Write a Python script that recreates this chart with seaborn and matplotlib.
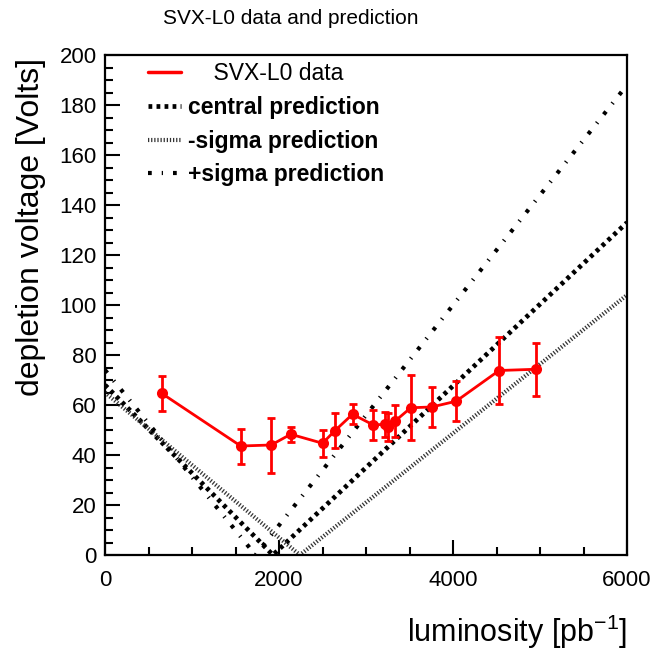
import numpy as np
import pandas as pd
import matplotlib
matplotlib.use("Agg")
import matplotlib.pyplot as plt
from matplotlib.ticker import MultipleLocator
from matplotlib.lines import Line2D
import seaborn as sns

# measured depletion voltage
lumi = [650, 1560, 1910, 2135, 2500, 2645, 2845, 3085, 3220, 3255, 3335,
        3515, 3755, 4035, 4530, 4955]
volt = [64.7, 43.6, 44.0, 48.3, 44.7, 49.8, 56.3, 52.0, 52.3, 51.2, 53.6,
        58.9, 59.2, 61.5, 73.8, 74.3]
volt_err = [7, 7, 11, 3, 5.5, 7, 4, 6, 5, 5.5, 6.5, 13, 8, 8, 13.5, 10.5]

# predictions (start, inversion point, end of range)
pred_lumi = [0, 1930, 6000]
central = [68, 0, 133]
minus_lumi = [0, 2240, 6000]
minus_sigma = [65, 0, 104]
plus_lumi = [0, 1730, 6000]
plus_sigma = [74, 0, 188]

sns.set_theme(style="white")
plt.rcParams['font.family'] = ['Liberation Sans', 'DejaVu Sans']
plt.rcParams['text.color'] = 'black'
plt.rcParams['xtick.color'] = 'black'
plt.rcParams['ytick.color'] = 'black'

C_STYLE = dict(color="black", lw=3.4, linestyle=(0, (0.8, 0.9)))
M_STYLE = dict(color="#333333", lw=3.0, linestyle=(0, (0.3, 0.45)))
P_STYLE = dict(color="black", lw=3.0, linestyle=(0, (0.9, 2.4, 0.3, 2.4)))

fig = plt.figure(figsize=(6.61, 6.5), dpi=100)
ax = fig.add_axes([105 / 661, 1 - 555 / 650, 522 / 661, 500 / 650])

df_c = pd.DataFrame({"lumi": pred_lumi, "volt": central})
df_m = pd.DataFrame({"lumi": minus_lumi, "volt": minus_sigma})
df_p = pd.DataFrame({"lumi": plus_lumi, "volt": plus_sigma})

sns.lineplot(data=df_c, x="lumi", y="volt", ax=ax, **C_STYLE)
sns.lineplot(data=df_m, x="lumi", y="volt", ax=ax, **M_STYLE)
sns.lineplot(data=df_p, x="lumi", y="volt", ax=ax, **P_STYLE)

ax.errorbar(lumi, volt, yerr=volt_err, fmt="none", ecolor="red",
            elinewidth=2, capsize=3, capthick=2)
df_d = pd.DataFrame({"lumi": lumi, "volt": volt})
sns.lineplot(data=df_d, x="lumi", y="volt", ax=ax, color="red", lw=2,
             marker="o", markersize=8, markeredgewidth=0, sort=False)

ax.set_xlim(0, 6000)
ax.set_ylim(0, 200)
ax.set_xlabel("")
ax.set_ylabel("")
ax.xaxis.set_major_locator(MultipleLocator(2000))
ax.xaxis.set_minor_locator(MultipleLocator(500))
ax.yaxis.set_major_locator(MultipleLocator(20))
ax.yaxis.set_minor_locator(MultipleLocator(5))
ax.tick_params(which="both", direction="in", top=False, right=False,
               bottom=True, left=True, colors="black", width=1.5)
ax.tick_params(which="major", length=11, labelsize=16)
ax.tick_params(which="minor", length=5.5)
ax.tick_params(axis="y", pad=6)
ax.tick_params(axis="x", pad=11)
for s in ax.spines.values():
    s.set_linewidth(1.6)
    s.set_color("black")

handles = [
    Line2D([], [], color="red", lw=2.5),
    Line2D([], [], **C_STYLE),
    Line2D([], [], **M_STYLE),
    Line2D([], [], **P_STYLE),
]
labels = ["    SVX-L0 data", "central prediction", "-sigma prediction",
          "+sigma prediction"]
leg = ax.legend(handles, labels, loc="upper left", frameon=False,
                bbox_to_anchor=(0.082, 0.985), borderaxespad=0, borderpad=0,
                fontsize=16.5, handlelength=1.45, handletextpad=0.3,
                labelspacing=0.46)
for i, t in enumerate(leg.get_texts()):
    t.set_color("black")
    if i > 0:
        t.set_fontweight("bold")

fig.text(163 / 661, 1 - 19 / 650, "SVX-L0 data and prediction", fontsize=15,
         ha="left", va="center")
fig.text(31 / 661, 1 - 58 / 650, "depletion voltage [Volts]", fontsize=23,
         rotation=90, ha="center", va="top")
fig.text(627 / 661, 1 - 632 / 650, r"luminosity [pb$^{\mathregular{-1}}$]",
         fontsize=22, ha="right", va="center")

fig.savefig("out.png", dpi=100)
